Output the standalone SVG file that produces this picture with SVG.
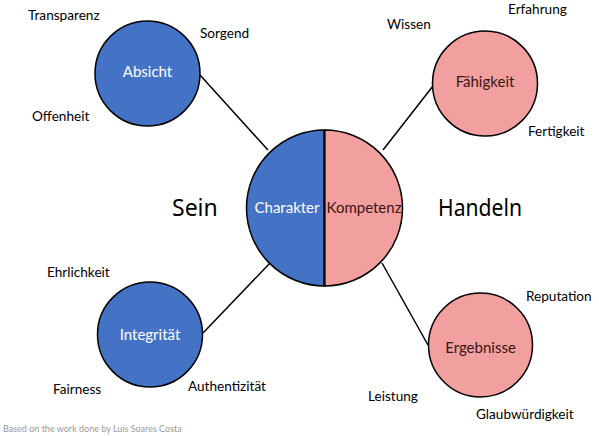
<svg xmlns="http://www.w3.org/2000/svg" width="599" height="436" viewBox="0 0 599 436">
<style>
.lbl{font-family:Lato,"Liberation Sans",sans-serif;font-size:13.6px;fill:#000}
.blue{fill:#4472C4;stroke:#000;stroke-width:1.5}
.pink{fill:#F2A09F;stroke:#000;stroke-width:1.5}
.wt{font-family:Lato,"Liberation Sans",sans-serif;font-size:15px;fill:#fff;text-anchor:middle;dominant-baseline:central}
.dt{font-family:Lato,"Liberation Sans",sans-serif;font-size:15px;fill:#3b1414;text-anchor:middle;dominant-baseline:central}
.big{font-family:"Noto Sans",sans-serif;font-size:23px;fill:#000;dominant-baseline:central}
.edge{stroke:#000;stroke-width:1.5;fill:none}
</style>
<rect width="599" height="436" fill="#fff"/>
<g id="connectors">
<line class="edge" x1="200" y1="75" x2="268" y2="150"/>
<line class="edge" x1="433" y1="86" x2="383" y2="150"/>
<line class="edge" x1="203" y1="333" x2="270" y2="263"/>
<line class="edge" x1="382" y1="263" x2="428" y2="345"/>
</g>
<g id="center">
<path class="blue" d="M324.5 130 A78 78 0 0 0 324.5 286 Z"/>
<path class="pink" d="M324.5 130 A78 78 0 0 1 324.5 286 Z"/>
<line x1="324.5" y1="130" x2="324.5" y2="286" stroke="#000" stroke-width="2"/>
<text class="wt" x="287" y="207">Charakter</text>
<text class="dt" x="364" y="207">Kompetenz</text>
</g>
<g id="absicht">
<circle class="blue" cx="147.5" cy="73.5" r="52.5"/>
<text class="wt" x="147.5" y="71">Absicht</text>
</g>
<g id="faehigkeit">
<circle class="pink" cx="485" cy="83.5" r="52.5"/>
<text class="dt" x="485" y="81">Fähigkeit</text>
</g>
<g id="integritaet">
<circle class="blue" cx="150" cy="334.5" r="52.5"/>
<text class="wt" x="150" y="334">Integrität</text>
</g>
<g id="ergebnisse">
<circle class="pink" cx="480.5" cy="345" r="52"/>
<text class="dt" x="480.5" y="347">Ergebnisse</text>
</g>
<g id="labels">
<text class="lbl" x="28" y="20">Transparenz</text>
<text class="lbl" x="200" y="38">Sorgend</text>
<text class="lbl" x="32" y="121">Offenheit</text>
<text class="lbl" x="387" y="29">Wissen</text>
<text class="lbl" x="508" y="14">Erfahrung</text>
<text class="lbl" x="528" y="136">Fertigkeit</text>
<text class="lbl" x="47" y="277">Ehrlichkeit</text>
<text class="lbl" x="53" y="394">Fairness</text>
<text class="lbl" x="188" y="391">Authentizität</text>
<text class="lbl" x="526" y="301">Reputation</text>
<text class="lbl" x="368" y="401">Leistung</text>
<text class="lbl" x="476" y="419">Glaubwürdigkeit</text>
<text class="big" x="172" y="207">Sein</text>
<text class="big" x="438" y="207" textLength="84" lengthAdjust="spacingAndGlyphs">Handeln</text>
<text x="3" y="432" font-family="Lato,'Liberation Sans',sans-serif" font-size="9px" fill="#999">Based on the work done by Luís Soares Costa</text>
</g>
</svg>
